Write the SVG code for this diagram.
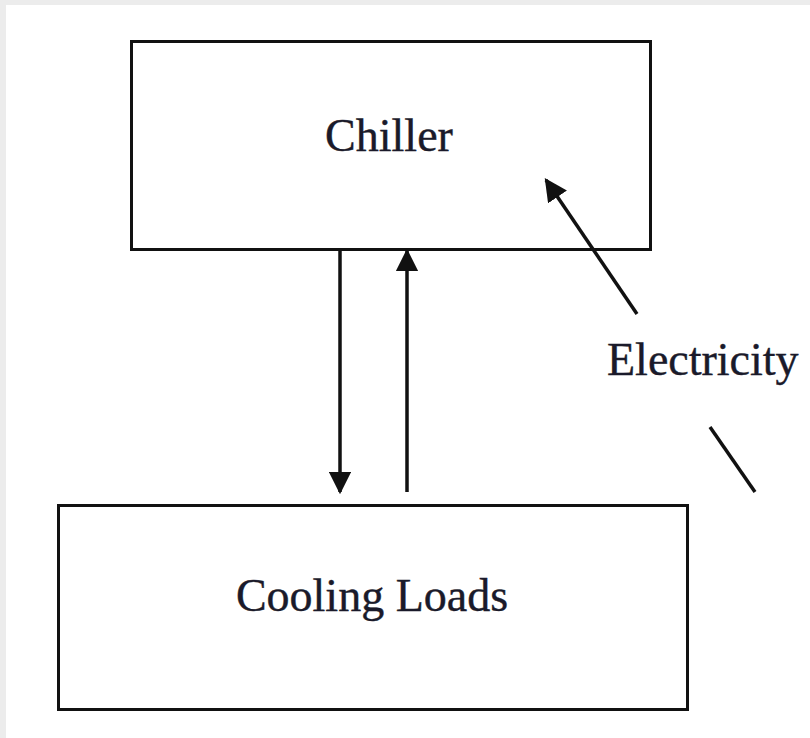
<svg xmlns="http://www.w3.org/2000/svg" width="810" height="738" viewBox="0 0 810 738">
<defs>
<style>
.box{fill:#fff;stroke:#111;stroke-width:3}
.lbl{font-family:"Liberation Serif",serif;font-size:46px;fill:#1a1a2a;stroke:#1a1a2a;stroke-width:0.4}
.con{stroke:#111;stroke-width:3.5;fill:none}
</style>
<marker id="ah2" viewBox="0 0 10 10" refX="9" refY="5" markerWidth="6.5" markerHeight="6.5" orient="auto">
<path d="M0,0 L10,5 L0,10 z" fill="#111"/>
</marker>
</defs>
<rect x="0" y="0" width="810" height="738" fill="#ececec"/>
<rect x="6" y="5" width="804" height="733" fill="#fff"/>
<g id="chiller">
<rect class="box" x="131.5" y="41.5" width="519" height="208"/>
<text class="lbl" x="389" y="151" text-anchor="middle">Chiller</text>
</g>
<g id="cooling-loads">
<rect class="box" x="58.5" y="505.5" width="629" height="204"/>
<text class="lbl" x="372" y="611" text-anchor="middle">Cooling Loads</text>
</g>
<g id="electricity">
<text class="lbl" x="607" y="375">Electricity</text>
</g>
<g id="connectors">
<line class="con" x1="340" y1="251" x2="340" y2="492" marker-end="url(#ah2)"/>
<line class="con" x1="407" y1="492" x2="407" y2="251" marker-end="url(#ah2)"/>
<line class="con" x1="637" y1="314" x2="546" y2="180" marker-end="url(#ah2)"/>
<line class="con" x1="710" y1="427" x2="755" y2="492"/>
</g>
</svg>
